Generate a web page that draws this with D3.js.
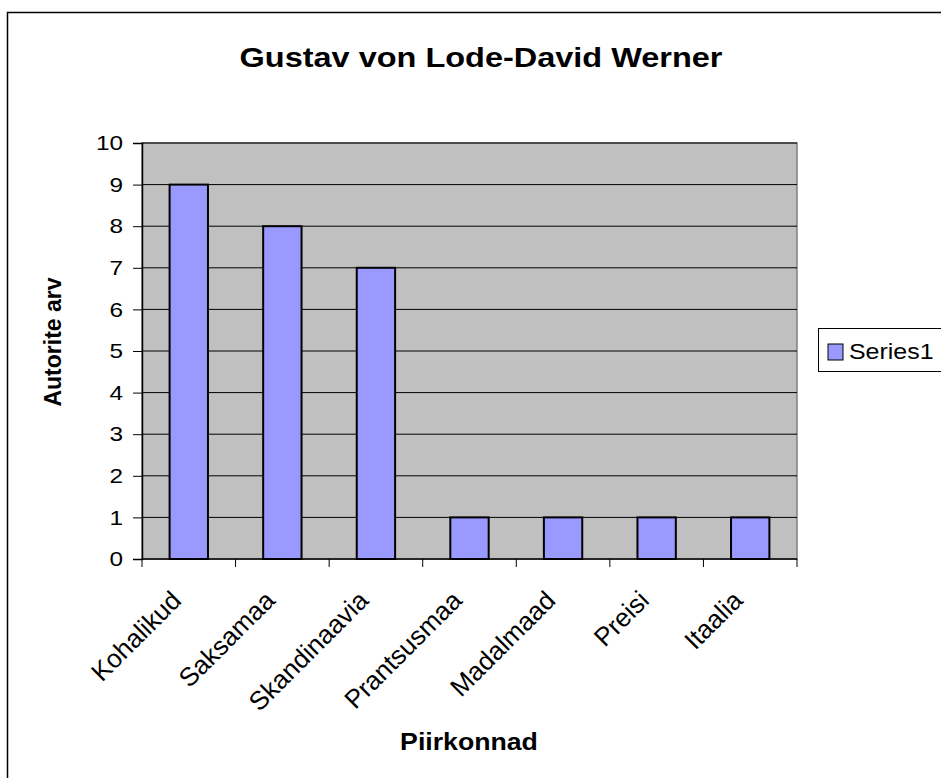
<!DOCTYPE html><meta charset="utf-8">
<style>*{margin:0}body{background:#fff}text{font-family:"Liberation Sans",Arial,sans-serif}</style>
<svg width="941" height="778"></svg>
<script src="https://d3js.org/d3.v7.min.js"></script>
<script>
const categories = ["Kohalikud","Saksamaa","Skandinaavia","Prantsusmaa","Madalmaad","Preisi","Itaalia"];
const values = [9,8,7,1,1,1,1];
const yTicks = [0,1,2,3,4,5,6,7,8,9,10];

const svg = d3.select("svg"),
      pL = 142, pR = 797, pT = 143, pB = 559,
      sx = 1.16;   // the original picture is a little wider than tall

// chart border, runs off the page right and bottom
svg.append("rect").attr("x",7.5).attr("y",12.5).attr("width",1000).attr("height",1000)
   .attr("fill","#fff").attr("stroke","#000").attr("stroke-width",1.5);

const x = d3.scaleBand().domain(categories).range([pL,pR]),
      y = d3.scaleLinear().domain([0,10]).range([pB,pT]);

svg.append("rect")                           // plot area
   .attr("x",pL).attr("y",pT).attr("width",pR-pL).attr("height",pB-pT)
   .attr("fill","#c0c0c0").attr("stroke","#808080").attr("stroke-width",1.5);

svg.append("g").selectAll("line").data(yTicks.slice(1)).join("line")
   .attr("x1",pL).attr("x2",pR).attr("y1",d=>y(d)).attr("y2",d=>y(d))
   .attr("stroke","#000").attr("stroke-width",1);

const bw = x.bandwidth()*0.41;
svg.append("g").selectAll("rect").data(values).join("rect")
   .attr("x",(d,i)=>x(categories[i])+x.bandwidth()/2-bw/2)
   .attr("y",d=>y(d)).attr("width",bw).attr("height",d=>pB-y(d))
   .attr("fill","#9999ff").attr("stroke","#000").attr("stroke-width",2);

// y axis
const ya = svg.append("g").attr("transform",`translate(${pL},0)`)
   .call(d3.axisLeft(y).tickValues(yTicks).tickSize(9).tickPadding(10));
ya.select(".domain").attr("stroke","#000").attr("stroke-width",1.5);
ya.selectAll("text").attr("font-size",21).attr("font-family",null).attr("fill","#000")
  .attr("x",-19/sx).attr("transform",`scale(${sx},1)`);

// x axis, ticks at band edges
const xa = svg.append("g");
xa.append("line").attr("x1",pL).attr("x2",pR).attr("y1",pB).attr("y2",pB)
  .attr("stroke","#000").attr("stroke-width",1.5);
xa.selectAll(".tk").data(categories.concat([null])).join("line")
  .attr("x1",(d,i)=>pL+i*x.step()).attr("x2",(d,i)=>pL+i*x.step())
  .attr("y1",pB).attr("y2",pB+8).attr("stroke","#000");
xa.selectAll("text").data(categories).join("text")
  .attr("transform",d=>`translate(${x(d)+x.bandwidth()/2-6},${pB+43}) rotate(-45)`)
  .attr("text-anchor","end").attr("font-size",26).text(d=>d);

svg.append("text").attr("transform",`translate(481,67) scale(${sx},1)`).attr("text-anchor","middle")
   .attr("font-size",28).attr("font-weight","bold").text("Gustav von Lode-David Werner");
svg.append("text").attr("transform","translate(61,342) rotate(-90)").attr("text-anchor","middle")
   .attr("font-size",23).attr("font-weight","bold").text("Autorite arv");
svg.append("text").attr("transform",`translate(469,750) scale(${sx},1)`).attr("text-anchor","middle")
   .attr("font-size",23).attr("font-weight","bold").text("Piirkonnad");

// legend
const lg = svg.append("g");
lg.append("rect").attr("x",818.5).attr("y",328.5).attr("width",200).attr("height",43)
  .attr("fill","#fff").attr("stroke","#000");
lg.append("rect").attr("x",828).attr("y",344).attr("width",15).attr("height",16)
  .attr("fill","#9999ff").attr("stroke","#000");
lg.append("text").attr("transform",`translate(849,359) scale(${sx},1)`).attr("font-size",21.5).text("Series1");
</script>
